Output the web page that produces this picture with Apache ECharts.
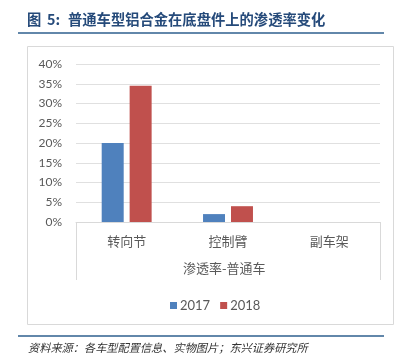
<!DOCTYPE html>
<html><head><meta charset="utf-8">
<script src="https://cdn.jsdelivr.net/npm/echarts@6/dist/echarts.min.js"></script>
<style>html,body{margin:0;padding:0;background:#fff}#c{width:400px;height:357px}</style>
</head><body><div id="c"></div>
<script>
const categories = ['转向节', '控制臂', '副车架'];
const seriesNames = ['2017', '2018'];
const values2017 = [0.20, 0.02, 0];
const values2018 = [0.345, 0.04, 0];
const yTicks = [0, 0.05, 0.10, 0.15, 0.20, 0.25, 0.30, 0.35, 0.40];
const axisTitle = '渗透率-普通车';
const titlePrefix = '图  5:';
const titleText = '普通车型铝合金在底盘件上的渗透率变化';
const sourceText = '资料来源：各车型配置信息、实物图片；东兴证券研究所';

const chart = echarts.init(document.getElementById('c'), null, {renderer: 'canvas'});
const G = {left: 76, right: 20, top: 64, bottom: 135};
const cjk = '"Noto Sans CJK SC", sans-serif';
chart.setOption({
  animation: false,
  textStyle: {fontFamily: cjk},
  graphic: [
    {type: 'text', left: 27, top: 12, style: {text: '图', font: 'bold 14.3px "Noto Sans CJK SC", sans-serif', fill: '#254a7a'}},
    {type: 'text', left: 47, top: 12, style: {text: '5:', font: 'bold 14.3px "Noto Sans CJK SC", sans-serif', fill: '#254a7a'}},
    {type: 'text', left: 68, top: 12, style: {text: titleText, font: 'bold 14.3px "Noto Sans CJK SC", sans-serif', fill: '#254a7a'}},
    {type: 'line', shape: {x1: 18, y1: 33, x2: 384, y2: 33}, style: {stroke: '#2e5f8e', lineWidth: 1.5}},
    {type: 'rect', shape: {x: 27.5, y: 46.5, width: 366, height: 278}, style: {fill: 'none', stroke: '#d9d9d9', lineWidth: 1}},
    {type: 'line', shape: {x1: 76.5, y1: 222, x2: 76.5, y2: 280}, style: {stroke: '#d9d9d9', lineWidth: 1}},
    {type: 'line', shape: {x1: 380.5, y1: 222, x2: 380.5, y2: 280}, style: {stroke: '#d9d9d9', lineWidth: 1}},
    {type: 'text', left: 183, top: 262, style: {text: axisTitle, font: '13px "Noto Sans CJK SC", sans-serif', fill: '#595959'}},
    {type: 'line', shape: {x1: 18, y1: 336, x2: 384, y2: 336}, style: {stroke: '#2e5f8e', lineWidth: 1.5}},
    {type: 'text', left: 28, top: 342, style: {text: sourceText, font: 'italic 11.2px "Noto Sans CJK SC", sans-serif', fill: '#333333'}}
  ],
  legend: {
    data: seriesNames, left: 165, top: 294, itemWidth: 7, itemHeight: 7, itemGap: 10,
    icon: 'rect', textStyle: {fontFamily: 'Lato, sans-serif', fontSize: 13, color: '#595959', padding: [0, 0, 0, -2]}
  },
  grid: G,
  xAxis: {
    type: 'category', data: categories,
    axisLine: {lineStyle: {color: '#d9d9d9'}}, axisTick: {show: false},
    axisLabel: {fontSize: 13, color: '#595959', margin: 13, fontFamily: cjk}
  },
  yAxis: {
    type: 'value', min: 0, max: 0.4, interval: 0.05,
    axisLine: {show: false}, axisTick: {show: false},
    splitLine: {lineStyle: {color: '#e0e0e0'}},
    axisLabel: {fontSize: 12, color: '#595959', margin: 14, fontFamily: 'Lato, sans-serif',
      formatter: v => Math.round(v * 100) + '%'}
  },
  series: [
    {name: seriesNames[0], type: 'bar', data: values2017, barWidth: 22, barGap: '27%', itemStyle: {color: '#4f81bd'}},
    {name: seriesNames[1], type: 'bar', data: values2018, barWidth: 22, itemStyle: {color: '#c0504d'}}
  ]
});
</script></body></html>
